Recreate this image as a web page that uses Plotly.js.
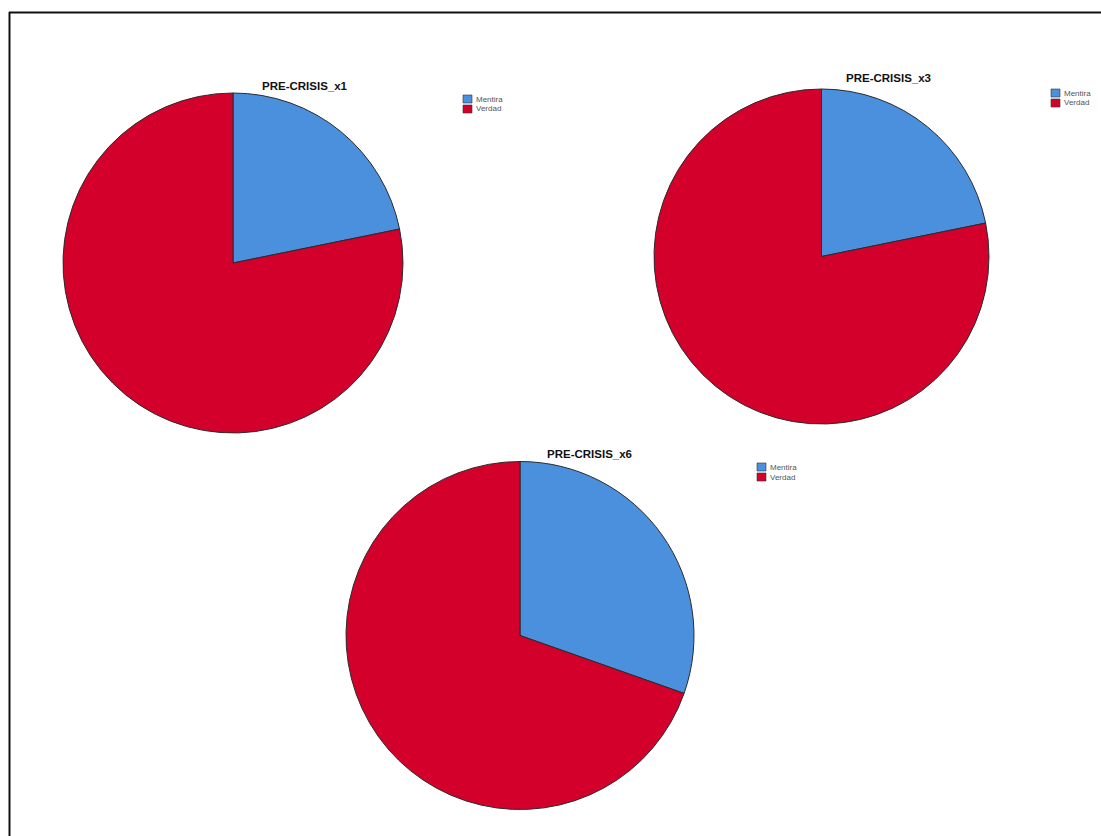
<!DOCTYPE html>
<html>
<head>
<meta charset="utf-8">
<script src="https://cdn.plot.ly/plotly-3.0.1.min.js"></script>
<style>html,body{margin:0;padding:0;background:#fff;}#chart{width:1101px;height:836px;}</style>
</head>
<body>
<div id="chart"></div>
<script>
// Data (percent of cases)
const labels = ["Mentira", "Verdad"];
const titles = ["PRE-CRISIS_x1", "PRE-CRISIS_x3", "PRE-CRISIS_x6"];
const valuesX1 = [21.8, 78.2];
const valuesX3 = [21.8, 78.2];
const valuesX6 = [30.4, 69.6];
const colors = ["#4a90dc", "#d4002c"];

const W = 1101, H = 836;
const px = x => x / W;
const py = y => 1 - y / H;

// pie placement in pixels: [left, top, right, bottom]
const boxes = [[63, 93, 403, 433], [653, 89, 990, 424], [346, 461, 694, 810]];
const titlePos = [[305, 86], [888, 78], [589, 454]];
const legendPos = [[463, 95], [1051, 89], [757, 463]];
const allValues = [valuesX1, valuesX3, valuesX6];

const traces = allValues.map((v, i) => ({
  type: "pie",
  labels: labels,
  values: v,
  sort: false,
  direction: "clockwise",
  rotation: 0,
  textinfo: "none",
  hoverinfo: "label+percent",
  showlegend: false,
  marker: { colors: colors, line: { color: "#2b2b2b", width: 1 } },
  domain: { x: [px(boxes[i][0]), px(boxes[i][2])], y: [py(boxes[i][3]), py(boxes[i][1])] },
  title: { text: "" }
}));

const annotations = [];
const shapes = [];
titles.forEach((t, i) => {
  annotations.push({
    text: "<b>" + t + "</b>", xref: "paper", yref: "paper",
    x: px(titlePos[i][0]), y: py(titlePos[i][1]), xanchor: "center", yanchor: "middle",
    showarrow: false, font: { family: "Liberation Sans, Arial", size: 11.5, color: "#111" }
  });
  labels.forEach((lab, j) => {
    const x0 = legendPos[i][0], y0 = legendPos[i][1] + j * 10;
    shapes.push({
      type: "rect", xref: "paper", yref: "paper",
      x0: px(x0), x1: px(x0 + 9), y0: py(y0 + 8), y1: py(y0),
      fillcolor: colors[j], line: { color: "#333", width: 0.6 }
    });
    annotations.push({
      text: lab, xref: "paper", yref: "paper",
      x: px(x0 + 11), y: py(y0 + 4), xanchor: "left", yanchor: "middle",
      showarrow: false, font: { family: "Liberation Sans, Arial", size: 8, color: "#555" }
    });
  });
});

// page frame (left and top border)
shapes.push({ type: "line", xref: "paper", yref: "paper", x0: px(9.5), x1: px(9.5), y0: 0, y1: py(12), line: { color: "#111", width: 2 } });
shapes.push({ type: "line", xref: "paper", yref: "paper", x0: px(9), x1: 1, y0: py(12.5), y1: py(12.5), line: { color: "#111", width: 2 } });

const layout = {
  width: W, height: H,
  margin: { l: 0, r: 0, t: 0, b: 0 },
  paper_bgcolor: "#ffffff",
  plot_bgcolor: "#ffffff",
  showlegend: false,
  annotations: annotations,
  shapes: shapes
};

Plotly.newPlot("chart", traces, layout, { displayModeBar: false, staticPlot: true });
</script>
</body>
</html>
